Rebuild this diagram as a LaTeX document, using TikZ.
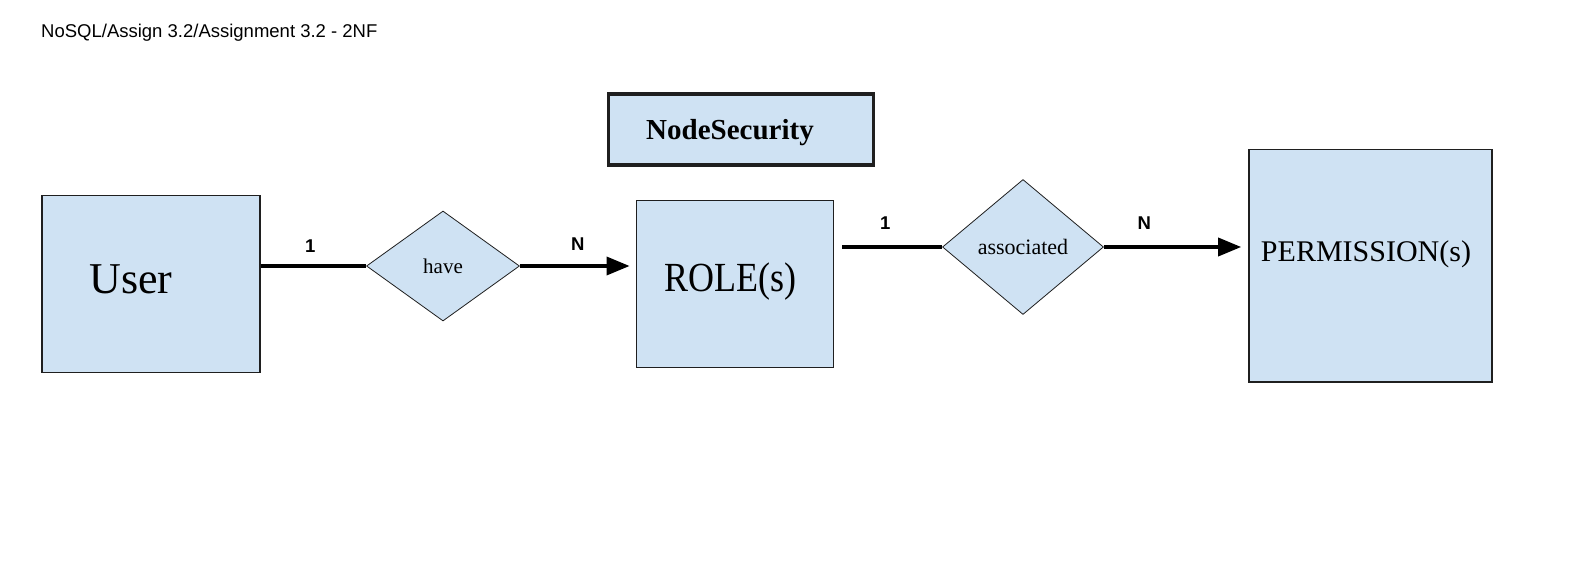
\documentclass[tikz,border=0pt]{standalone}
\usepackage{fontspec}
\setmainfont{Liberation Serif}
\newfontfamily\arialfont{Liberation Sans}
\usetikzlibrary{shapes.geometric,arrows.meta,positioning}

\definecolor{boxblue}{HTML}{CFE2F3}
\definecolor{edgegray}{HTML}{1F1F1F}

\tikzset{
	entity/.style={draw=edgegray, fill=boxblue, line width=1.8pt, inner sep=0pt},
	relation/.style={diamond, draw=edgegray, fill=boxblue, line width=0.8pt, inner sep=0pt},
	link/.style={draw=black, line width=3.5pt},
	arrowlink/.style={link, -{Triangle[length=23pt,width=18pt]}},
	card/.style={font=\arialfont\bfseries\fontsize{18.5}{19}\selectfont, inner sep=0pt},
	boxtext/.style={inner sep=0pt},
}

\begin{document}
\begin{tikzpicture}[x=1pt, y=-1pt]
	\fill[white] (0,0) rectangle (1596,588);
	\useasboundingbox (0,0) rectangle (1596,588);

	\node[inner sep=0pt, anchor=base west, font=\arialfont\fontsize{18.5}{20}\selectfont] (title) at (41,37.5) {NoSQL/Assign 3.2/Assignment 3.2 - 2NF};

	% entities
	\node[entity, line width=3.5pt, minimum width=265pt, minimum height=71pt] (nodesec) at (741,129.7) {};
	\node[entity, minimum width=218pt, minimum height=177pt] (user) at (150.7,284) {};
	\node[entity, minimum width=197pt, minimum height=167pt] (role) at (735,284) {};
	\node[entity, minimum width=243pt, minimum height=232pt] (perm) at (1370.6,265.6) {};

	\node[boxtext, font=\bfseries\fontsize{29}{30}\selectfont] (nodesectext) at ([shift={(-11pt,-2.8pt)}]nodesec.center) {NodeSecurity};
	\node[boxtext, font=\fontsize{44}{48}\selectfont] (usertext) at ([shift={(-19.7pt,5pt)}]user.center) {User};
	\node[boxtext, font=\fontsize{36}{40}\selectfont] (roletext) at ([shift={(-5pt,2pt)}]role.center) {\scalebox{1}[1.15]{ROLE(s)}};
	\node[boxtext, font=\fontsize{30}{32}\selectfont] (permtext) at ([shift={(-4.6pt,11.5pt)}]perm.center) {PERMISSION(s)};

	% relations
	\node[relation, minimum width=153pt, minimum height=110pt, font=\fontsize{21}{22}\selectfont] (have) at (443,266) {have};
	\node[relation, minimum width=161pt, minimum height=135pt, font=\fontsize{22}{24}\selectfont] (assoc) at (1023,247) {associated};

	% connectors
	\draw[link] (user.east |- have.west) -- node[card, above=12pt, pos=0.47] (one1) {1} (have.west);
	\draw[arrowlink, shorten >=6pt] (have.east) -- node[card, above=14pt] (n1) {N} (have.east -| role.west);
	\draw[link] ([xshift=8pt]role.east |- assoc.west) -- node[card, above=16pt, pos=0.43] (one2) {1} (assoc.west);
	\draw[arrowlink, shorten >=7pt] (assoc.east) -- node[card, above=16pt, pos=0.28] (n2) {N} (assoc.east -| perm.west);
\end{tikzpicture}
\end{document}
